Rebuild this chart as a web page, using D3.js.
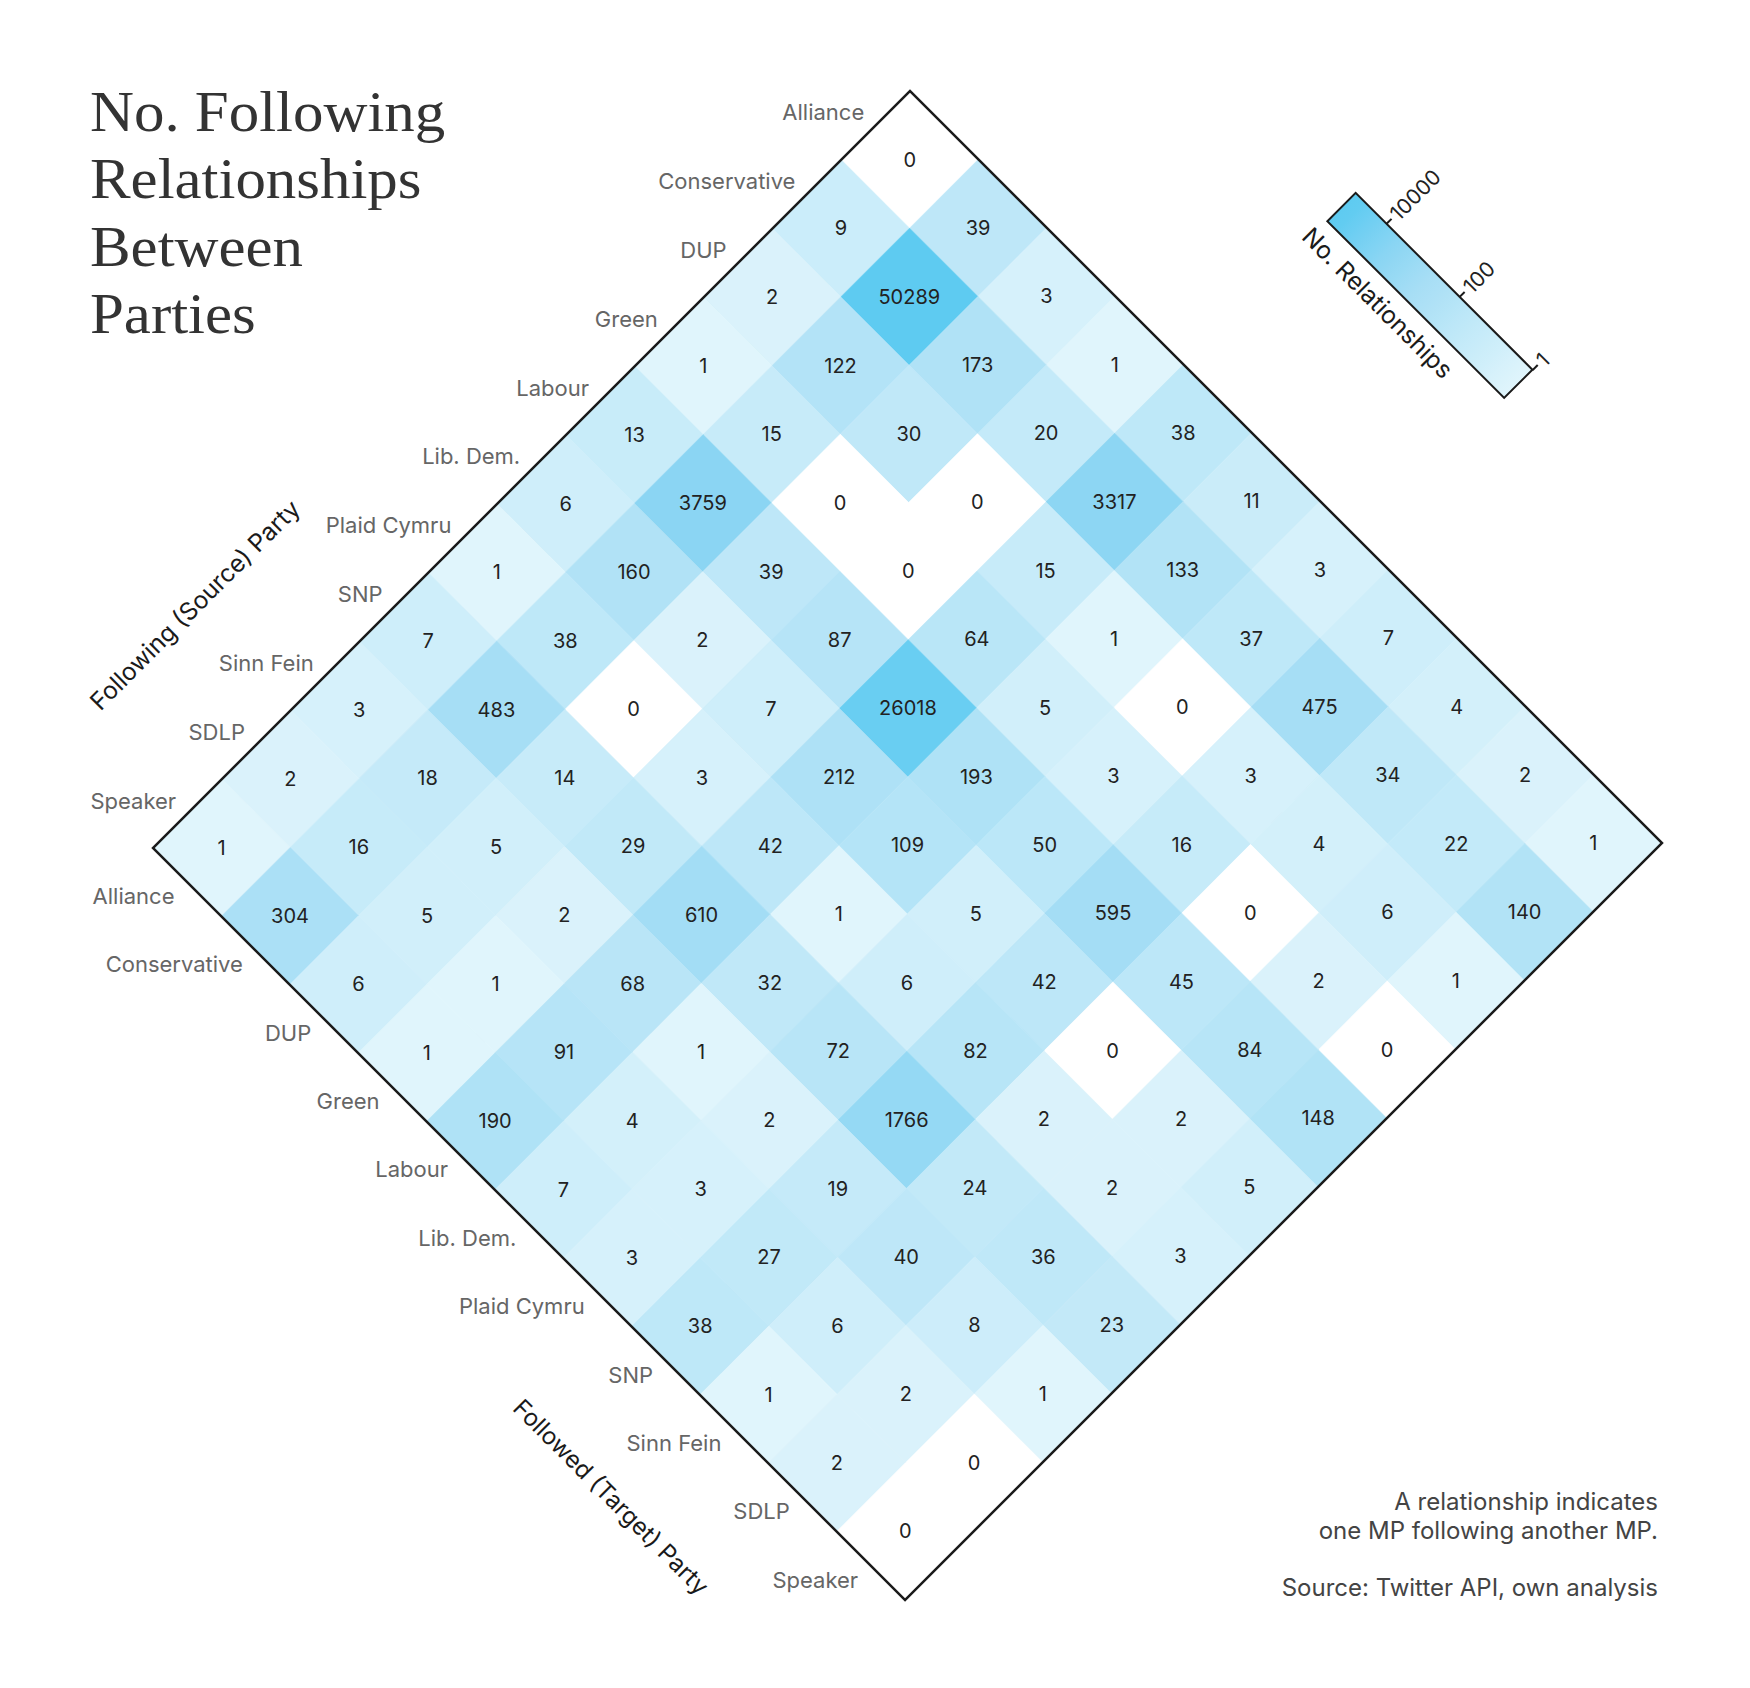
<!DOCTYPE html>
<html>
<head>
<meta charset="utf-8">
<script src="https://cdn.jsdelivr.net/npm/d3@7"></script>
<style>
	body { margin: 0; background: #fff; }
	svg { font-family: Inter, "Noto Sans", sans-serif; }
</style>
</head>
<body>
<svg id="chart" width="1750" height="1688"></svg>
<script>
const parties = ["Alliance", "Conservative", "DUP", "Green", "Labour", "Lib. Dem.", "Plaid Cymru", "SNP", "Sinn Fein", "SDLP", "Speaker"];

// one array per following (source) party, in the order of the followed (target) parties
const alliance = [0, 39, 3, 1, 38, 11, 3, 7, 4, 2, 1];
const conservative = [9, 50289, 173, 20, 3317, 133, 37, 475, 34, 22, 140];
const dup = [2, 122, 30, 0, 15, 1, 0, 3, 4, 6, 1];
const green = [1, 15, 0, 0, 64, 5, 3, 16, 0, 2, 0];
const labour = [13, 3759, 39, 87, 26018, 193, 50, 595, 45, 84, 148];
const libDem = [6, 160, 2, 7, 212, 109, 5, 42, 0, 2, 5];
const plaidCymru = [1, 38, 0, 3, 42, 1, 6, 82, 2, 2, 3];
const snp = [7, 483, 14, 29, 610, 32, 72, 1766, 24, 36, 23];
const sinnFein = [3, 18, 5, 2, 68, 1, 2, 19, 40, 8, 1];
const sdlp = [2, 16, 5, 1, 91, 4, 3, 27, 6, 2, 0];
const speaker = [1, 304, 6, 1, 190, 7, 3, 38, 1, 2, 0];

const counts = [alliance, conservative, dup, green, labour, libDem, plaidCymru, snp, sinnFein, sdlp, speaker];

const legendTicks = [1, 100, 10000];
const titleLines = ["No. Following", "Relationships", "Between", "Parties"];
const noteLines = ["A relationship indicates", "one MP following another MP.", "", "Source: Twitter API, own analysis"];

const svg = d3.select("#chart");

// unrotated matrix size, the grid is turned 45deg round its top-left corner
const width = 1063.5;
const height = 1070.5;

const x = d3.scaleBand().domain(parties).range([0, width]);
const y = d3.scaleBand().domain(parties).range([0, height]);

const maxCount = d3.max(counts.flat());

const color = d3.scaleLog()
	.domain([1, 500, 4000, maxCount])
	.range(["#e0f5fc", "#a6def5", "#8ad5f3", "#5ecbf1"])
	.clamp(true);

const fill = (v) => (v > 0 ? color(v) : "#fff");

const cells = counts.flatMap((row, i) => row.map((value, j) => ({source: parties[i], target: parties[j], value})));

const grid = svg.append("g")
	.attr("transform", "translate(910, 91) rotate(45)");

grid.selectAll(".cell")
	.data(cells)
	.enter()
	.append("rect")
	.attr("class", "cell")
	.attr("x", (d) => x(d.target))
	.attr("y", (d) => y(d.source))
	.attr("width", x.bandwidth())
	.attr("height", y.bandwidth())
	.attr("fill", (d) => fill(d.value))
	.attr("stroke", (d) => fill(d.value))
	.attr("stroke-width", 0.6);

grid.append("rect")
	.attr("width", width)
	.attr("height", height)
	.attr("fill", "none")
	.attr("stroke", "#1a1a1a")
	.attr("stroke-width", 2.5);

grid.selectAll(".count")
	.data(cells)
	.enter()
	.append("text")
	.attr("class", "count")
	.attr("transform", (d) => `translate(${x(d.target) + x.bandwidth() / 2}, ${y(d.source) + y.bandwidth() / 2}) rotate(-45)`)
	.attr("text-anchor", "middle")
	.attr("dy", "0.35em")
	.attr("font-size", 20)
	.attr("fill", "#222")
	.text((d) => d.value);

grid.selectAll(".source-label")
	.data(parties)
	.enter()
	.append("text")
	.attr("class", "source-label")
	.attr("transform", (d) => `translate(-17, ${y(d) + y.bandwidth() / 2 - 1}) rotate(-45)`)
	.attr("text-anchor", "end")
	.attr("dy", "0.35em")
	.attr("font-size", 22)
	.attr("fill", "#666")
	.text((d) => d);

grid.selectAll(".target-label")
	.data(parties)
	.enter()
	.append("text")
	.attr("class", "target-label")
	.attr("transform", (d) => `translate(${x(d) + x.bandwidth() / 2 + 1}, ${height + 19}) rotate(-45)`)
	.attr("text-anchor", "end")
	.attr("dy", "0.35em")
	.attr("font-size", 22)
	.attr("fill", "#666")
	.text((d) => d);

// axis titles
svg.append("text")
	.attr("transform", "translate(195, 605) rotate(-45)")
	.attr("text-anchor", "middle")
	.attr("dy", "0.35em")
	.attr("font-size", 24.5)
	.attr("fill", "#1a1a1a")
	.text("Following (Source) Party");

svg.append("text")
	.attr("transform", "translate(611, 1497) rotate(45)")
	.attr("text-anchor", "middle")
	.attr("dy", "0.35em")
	.attr("font-size", 24)
	.attr("fill", "#1a1a1a")
	.text("Followed (Target) Party");

// legend
const legendLength = 250;
const legendWidth = 40;

const legendScale = d3.scaleLog()
	.domain([1, maxCount])
	.range([legendLength, 7]);

const gradient = svg.append("defs")
	.append("linearGradient")
	.attr("id", "legend-gradient")
	.attr("x1", "0")
	.attr("x2", "1")
	.attr("y1", "0")
	.attr("y2", "0");

gradient.selectAll("stop")
	.data(d3.range(0, 1.0001, 0.05))
	.enter()
	.append("stop")
	.attr("offset", (o) => o)
	.attr("stop-color", (o) => color(legendScale.invert(Math.max(o * legendLength, 7))));

const legend = svg.append("g")
	.attr("transform", "translate(1341.5, 207) rotate(45)");

legend.append("rect")
	.attr("y", -legendWidth / 2)
	.attr("width", legendLength)
	.attr("height", legendWidth)
	.attr("fill", "url(#legend-gradient)")
	.attr("stroke", "#1a1a1a")
	.attr("stroke-width", 2);

const legendAxis = legend.append("g")
	.attr("transform", `translate(0, ${-legendWidth / 2})`)
	.call(d3.axisTop(legendScale).tickValues(legendTicks).tickFormat(d3.format("d")).tickSize(7));

legendAxis.select(".domain").remove();
legendAxis.selectAll("line")
	.attr("stroke", "#1a1a1a")
	.attr("stroke-width", 2);
legendAxis.selectAll("text")
	.attr("transform", "rotate(-90)")
	.attr("x", 10)
	.attr("y", 0)
	.attr("dy", "0.35em")
	.attr("text-anchor", "start")
	.attr("font-family", "Inter, sans-serif")
	.attr("font-size", 21)
	.attr("fill", "#222");

legend.append("text")
	.attr("x", -7)
	.attr("y", 51)
	.attr("font-size", 24.5)
	.attr("fill", "#1a1a1a")
	.text("No. Relationships");

// title
const title = svg.append("g")
	.attr("transform", "translate(90, 0) scale(1.05, 1)");

title.selectAll("text")
	.data(titleLines)
	.enter()
	.append("text")
	.attr("y", (d, i) => 131 + i * 67.3)
	.style("font-family", "\"Liberation Serif\", \"DejaVu Serif\", serif")
	.attr("font-size", 58)
	.attr("fill", "#333")
	.text((d) => d);

// note
svg.selectAll(".note")
	.data(noteLines)
	.enter()
	.append("text")
	.attr("class", "note")
	.attr("x", 1658)
	.attr("y", (d, i) => 1510 + i * 28.7)
	.attr("text-anchor", "end")
	.attr("font-size", 24)
	.attr("fill", "#444")
	.text((d) => d);
</script>
</body>
</html>
